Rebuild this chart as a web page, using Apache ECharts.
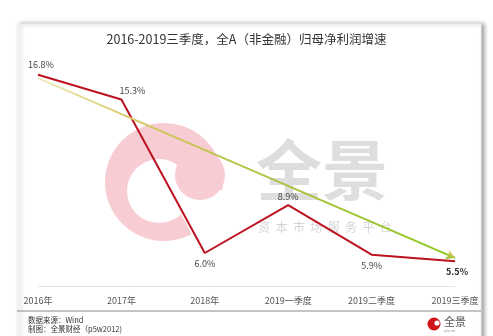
<!DOCTYPE html>
<html>
<head>
<meta charset="utf-8">
<script src="https://cdn.jsdelivr.net/npm/echarts@6/dist/echarts.min.js"></script>
<style>
  html, body { margin: 0; padding: 0; background: #ffffff; }
  #chart { width: 493px; height: 336px; }
</style>
</head>
<body>
<div id="chart"></div>
<script>
// Net profit growth (ex-financials), 2016 to Q3 2019
const categories = ['2016年', '2017年', '2018年', '2019一季度', '2019二季度', '2019三季度'];
const growth = [16.8, 15.3, 6.0, 8.9, 5.9, 5.5];
// Trend arrow: start and end levels
const trendStart = 16.6;
const trendEnd = 5.7;

const FONT = '"Noto Sans CJK SC", "Noto Sans", sans-serif';

// Where each value label sits around its point
const labelPlacement = [
  { position: 'top', offset: [3, 0] },
  { position: 'top', offset: [11, 2] },
  { position: 'bottom', offset: [0, 0] },
  { position: 'top', offset: [0, 2] },
  { position: 'bottom', offset: [0, 0] },
  { position: 'bottom', offset: [2, 0], fontWeight: 'bold', color: '#333' }
];

const growthData = growth.map((v, i) => ({
  value: v,
  label: Object.assign({ show: true }, labelPlacement[i])
}));

const chart = echarts.init(document.getElementById('chart'), null, { renderer: 'canvas' });

const pink = '#f7ccd2';
const deg = Math.PI / 180;

chart.setOption({
  animation: false,
  backgroundColor: '#ffffff',
  title: {
    text: '2016-2019三季度，全A（非金融）归母净利润增速',
    left: 'center',
    top: 28,
    textStyle: { fontFamily: FONT, fontSize: 12.5, fontWeight: 'normal', color: '#333' }
  },
  grid: { left: 38, right: 38, top: 55, bottom: 50, containLabel: false },
  xAxis: {
    type: 'category',
    data: categories,
    boundaryGap: false,
    axisLine: { lineStyle: { color: '#e4e4e4', width: 1 } },
    axisTick: { show: false },
    axisLabel: { fontFamily: FONT, fontSize: 9, color: '#555', margin: 10 }
  },
  yAxis: {
    type: 'value',
    min: 4,
    max: 18,
    show: false,
    splitLine: { show: false }
  },
  graphic: [
    // card with right-hand shadow
    {
      type: 'rect', z: -10,
      shape: { x: 17, y: 24, width: 464, height: 330 },
      style: { fill: '#fff', stroke: '#f0f0f0', lineWidth: 1,
               shadowColor: 'rgba(0,0,0,0.35)', shadowBlur: 4, shadowOffsetX: 3, shadowOffsetY: 0 }
    },
    // footer separator
    {
      type: 'line', z: 5,
      shape: { x1: 17, y1: 311, x2: 481, y2: 311 },
      style: { stroke: '#8a8a8a', lineWidth: 1 }
    },
    // watermark swirl: open ring, hollow centre, then the inner head
    {
      type: 'sector', z: -5,
      shape: { cx: 164, cy: 182, r: 59, r0: 0,
               startAngle: 62 * deg, endAngle: 368 * deg, clockwise: true },
      style: { fill: pink }
    },
    {
      type: 'circle', z: -4,
      shape: { cx: 159, cy: 191, r: 32 },
      style: { fill: '#fff' }
    },
    {
      type: 'circle', z: -3,
      shape: { cx: 200, cy: 175, r: 25 },
      style: { fill: pink }
    },
    // watermark wordmark
    {
      type: 'text', z: -3,
      style: { x: 322, y: 170, text: '全景', align: 'center', verticalAlign: 'middle',
               font: 'bold 66px ' + FONT, fill: '#dedede' }
    },
    {
      type: 'text', z: -3,
      style: { x: 325, y: 227, text: '资  本  市  场  服  务  平  台', align: 'center', verticalAlign: 'middle',
               font: '12px ' + FONT, fill: '#d6d6d6' }
    },
    // footer notes
    {
      type: 'text', z: 5,
      style: { x: 28, y: 320, text: '数据来源：Wind', verticalAlign: 'middle',
               font: '7.5px ' + FONT, fill: '#333' }
    },
    {
      type: 'text', z: 5,
      style: { x: 28, y: 329, text: '制图：全景财经（p5w2012)', verticalAlign: 'middle',
               font: '7.5px ' + FONT, fill: '#333' }
    },
    // footer logo
    {
      type: 'circle', z: 5,
      shape: { cx: 434, cy: 324, r: 6.5 },
      style: { fill: '#d0121b' }
    },
    {
      type: 'circle', z: 6,
      shape: { cx: 437, cy: 323, r: 2.6 },
      style: { fill: '#fff' }
    },
    {
      type: 'text', z: 5,
      style: { x: 444, y: 322, text: '全景', verticalAlign: 'middle',
               font: '11px ' + FONT, fill: '#555' }
    },
    {
      type: 'text', z: 5,
      style: { x: 444, y: 331, text: 'p5w.net', verticalAlign: 'middle',
               font: '3px ' + FONT, fill: '#999' }
    }
  ],
  series: [
    {
      name: '趋势',
      type: 'line',
      data: [],
      silent: true,
      markLine: {
        silent: true,
        symbol: ['none', 'arrow'],
        symbolSize: [8, 9],
        label: { show: false },
        lineStyle: {
          type: 'solid',
          width: 2,
          color: new echarts.graphic.LinearGradient(0, 0, 1, 0, [
            { offset: 0, color: '#f1ecc4' },
            { offset: 0.25, color: '#d6c65c' },
            { offset: 0.6, color: '#a9c23e' },
            { offset: 1, color: '#8dc81c' }
          ])
        },
        data: [[
          { coord: [categories[0], trendStart] },
          { coord: [categories[categories.length - 1], trendEnd] }
        ]]
      },
      z: 3
    },
    {
      name: '归母净利润增速',
      type: 'line',
      data: growthData,
      symbol: 'circle',
      symbolSize: 2,
      showSymbol: true,
      showAllSymbol: true,
      lineStyle: { color: '#bd1220', width: 2 },
      itemStyle: { color: 'rgba(189,18,32,0)' },
      label: {
        show: true,
        formatter: p => p.value.toFixed(1) + '%',
        fontFamily: FONT,
        fontSize: 9,
        color: '#444',
        distance: 5
      },
      z: 4
    }
  ]
});
</script>
</body>
</html>
